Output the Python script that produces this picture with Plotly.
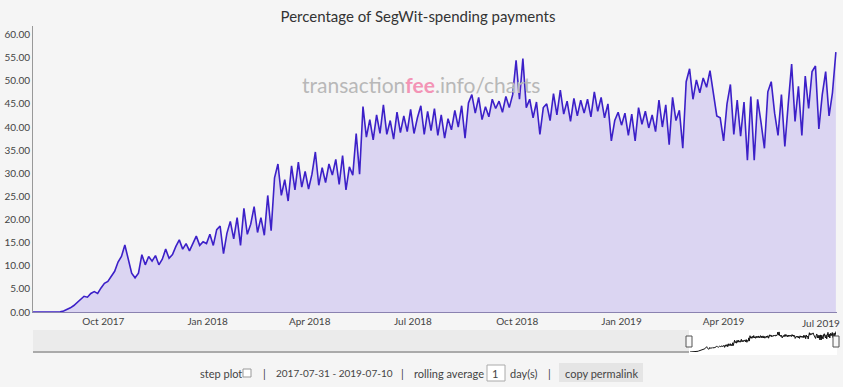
import plotly.graph_objects as go
import pandas as pd

# ---------------- data ----------------
start_date = "2017-07-31"
step_days = 3
x_range = ["2017-07-31", "2019-07-10"]

pct_2017 = [0, 0, 0, 0, 0, 0, 0, 0,
            0.05, 0.2, 0.5, 0.9, 1.4, 2.0, 2.8, 3.4, 3.2, 4.0, 4.4, 4.0, 5.2,
            6.2, 6.6, 7.6, 8.8, 10.8, 12.0, 14.5, 11.5, 8.4, 7.4,
            8.4, 12.4, 10.2, 12.0, 11.0, 12.2, 10.2, 11.4, 13.6, 11.6,
            12.4, 14.2, 15.6, 13.6, 14.8, 13.2, 15.0, 16.4, 14.4, 15.2, 14.8]
pct_2018_h1 = [16.8, 14.4, 17.8, 18.6, 12.6, 17.0, 19.6, 15.8, 20.4, 14.4,
               22.4, 16.8, 19.0, 22.8, 17.2, 20.4, 16.6, 25.2, 17.6,
               29.0, 32.0, 25.2, 28.6, 24.0, 31.6, 26.4, 32.4, 27.0, 30.4,
               26.6, 29.8, 34.6, 27.4, 31.2, 28.0, 32.0, 29.6, 33.0, 27.6,
               33.8, 26.4, 31.4, 29.6, 38.6, 29.8, 44.4, 37.8, 41.6, 37.2,
               42.6, 38.6, 44.8, 38.4, 41.4, 37.4, 43.2, 38.8, 42.4, 39.0]
pct_2018_h2 = [43.8, 38.6, 42.0, 44.6, 38.4, 43.4, 39.2, 44.0, 38.2, 42.6,
               37.6, 41.8, 39.4, 43.6, 40.0, 44.6, 37.6, 45.2, 47.0, 43.0,
               46.4, 41.6, 44.4, 42.2, 46.0, 44.0, 45.6, 43.2, 46.6, 44.2, 47.0,
               54.4, 46.0, 54.8, 44.2, 46.0, 42.0, 45.4, 38.4, 44.2,
               45.0, 41.4, 47.2, 42.6, 48.0, 42.8, 45.6, 41.2, 46.2, 42.4,
               45.8, 43.0, 46.0, 42.2, 47.6, 43.4, 46.4, 42.0, 45.0, 37.0]
pct_2019 = [41.4, 43.2, 40.4, 43.0, 38.2, 42.8, 37.0, 44.2, 40.6, 43.4,
            39.8, 42.6, 39.0, 45.8, 40.0, 44.8, 36.2, 46.4, 41.4, 43.6,
            35.4, 49.8, 52.6, 46.0, 50.2, 47.4, 50.6, 48.6, 52.2, 47.0,
            42.4, 42.0, 37.0, 45.0, 49.2, 38.4, 45.8, 38.0, 45.4, 32.8,
            46.6, 32.8, 46.0, 41.0, 35.4, 47.6, 49.8, 43.0, 38.2, 47.0,
            35.8, 45.0, 53.6, 41.2, 48.8, 38.2, 51.0, 44.0, 52.0, 53.2,
            39.6, 47.0, 52.0, 42.4, 47.4, 56.2]

pct = pct_2017 + pct_2018_h1 + pct_2018_h2 + pct_2019
dates = pd.date_range(start=start_date, periods=len(pct), freq=f"{step_days}D")

y_ticks = [0, 5, 10, 15, 20, 25, 30, 35, 40, 45, 50, 55, 60]
x_tick_dates = ["2017-10-01", "2018-01-01", "2018-04-01", "2018-07-01",
                "2018-10-01", "2019-01-01", "2019-04-01", "2019-07-01"]
x_tick_labels = ["Oct 2017", "Jan 2018", "Apr 2018", "Jul 2018",
                 "Oct 2018", "Jan 2019", "Apr 2019", "Jul 2019"]

title_text = "Percentage of SegWit-spending payments"
rolling_days = "1"

# ---------------- layout geometry ----------------
W, H = 843, 387
L, R, T, B = 33, 6, 26, 35
PW = W - L - R
PH = H - T - B
BOT = H - B


def px(x):
    return (x - L) / PW


def py(y):
    return (BOT - y) / PH


FONT = "Lato, 'Open Sans', sans-serif"
BG = "#f5f5f5"
TICKFONT = dict(family=FONT, size=10, color="#444")

fig = go.Figure()
fig.add_trace(go.Scatter(
    x=dates, y=pct, mode="lines", fill="tozeroy",
    fillcolor="rgb(219,213,242)",
    line=dict(color="rgb(60,32,200)", width=1.6),
    hoverinfo="skip", xaxis="x", yaxis="y", showlegend=False))
fig.add_trace(go.Scatter(
    x=dates, y=pct, mode="lines",
    line=dict(color="#111111", width=1),
    hoverinfo="skip", xaxis="x2", yaxis="y2", showlegend=False))

shapes = [
    dict(type="rect", xref="paper", yref="paper", x0=0, x1=px(689),
         y0=py(352), y1=py(330), fillcolor="#ebebeb", line=dict(width=0), layer="below"),
    dict(type="rect", xref="paper", yref="paper", x0=px(689), x1=1,
         y0=py(355), y1=py(330), fillcolor="#ffffff", line=dict(width=0), layer="below"),
    dict(type="line", xref="paper", yref="paper", x0=0, x1=px(689),
         y0=py(352), y1=py(352), line=dict(color="#aaaaaa", width=2)),
    # handles
    dict(type="rect", xref="paper", yref="paper", x0=px(686), x1=px(692),
         y0=py(347), y1=py(336), fillcolor="#f8f8f8", line=dict(color="#555", width=1)),
    dict(type="rect", xref="paper", yref="paper", x0=px(833), x1=px(839),
         y0=py(347), y1=py(336), fillcolor="#f8f8f8", line=dict(color="#555", width=1)),
    # checkbox
    dict(type="rect", xref="paper", yref="paper", x0=px(243), x1=px(251),
         y0=py(377), y1=py(369), fillcolor="#ffffff", line=dict(color="#999", width=1)),
    # input box
    dict(type="rect", xref="paper", yref="paper", x0=px(487), x1=px(505),
         y0=py(381), y1=py(365), fillcolor="#ffffff", line=dict(color="#aaa", width=1)),
    # button
    dict(type="rect", xref="paper", yref="paper", x0=px(559), x1=px(643),
         y0=py(382), y1=py(363), fillcolor="#e5e5e5", line=dict(width=0)),
]

ctrl_y = py(373)
controls = [
    (198, "step plot", 11),
    (261, "|", 11),
    (274, f"{x_range[0]} - {x_range[1]}", 10),
    (399, "|", 11),
    (412, "rolling average", 11),
    (490, rolling_days, 11),
    (508, "day(s)", 11),
    (546, "|", 11),
    (563, "copy permalink", 11),
]
annotations = [dict(x=px(xp), y=ctrl_y, xref="paper", yref="paper", text=t,
                    showarrow=False, xanchor="left", yanchor="middle",
                    font=dict(family=FONT, size=s, color="#444"))
               for xp, t, s in controls]

# last x tick label nudged inside the chart like the original
annotations.append(dict(
    x=x_tick_dates[-1], y=0, xref="x", yref="y", text=x_tick_labels[-1],
    showarrow=False, xanchor="center", yanchor="top", xshift=-6, yshift=-3,
    font=TICKFONT))

annotations.append(dict(
    x=px(421), y=py(84), xref="paper", yref="paper", showarrow=False,
    xanchor="center", yanchor="middle",
    text="transaction<b><span style='color:#f394b5'>fee</span></b>.info/charts",
    font=dict(family=FONT, size=21, color="#b8b8b8")))

fig.update_layout(
    width=W, height=H,
    margin=dict(l=L, r=R, t=T, b=B, autoexpand=False),
    paper_bgcolor=BG, plot_bgcolor=BG,
    title=dict(text=title_text, x=418 / W, xanchor="center",
               y=1 - 17 / H, yanchor="middle",
               font=dict(family=FONT, size=15, color="#333")),
    xaxis=dict(domain=[0, 1], anchor="y", type="date", range=x_range,
               tickvals=x_tick_dates[:-1], ticktext=x_tick_labels[:-1],
               showgrid=False, zeroline=False, showline=True, automargin=False,
               linecolor="#8a82b0", linewidth=1, ticks="",
               tickfont=TICKFONT),
    yaxis=dict(domain=[py(312), 1], anchor="x", range=[0, 61.84],
               tickvals=y_ticks, tickformat=".2f", automargin=False,
               showgrid=False, zeroline=False, showline=True,
               linecolor="#999", linewidth=1, ticks="",
               tickfont=TICKFONT),
    xaxis2=dict(domain=[px(690), px(836)], anchor="y2", type="date",
                range=[dates[0], dates[-1]], visible=False),
    yaxis2=dict(domain=[0, py(330)], anchor="x2", range=[0, 60], visible=False),
    shapes=shapes,
    annotations=annotations,
    hovermode=False,
)

fig.write_html(
    "out.html",
    config={"displayModeBar": False},
    post_script="document.body.style.margin='0';document.body.style.background='#f5f5f5';",
)
